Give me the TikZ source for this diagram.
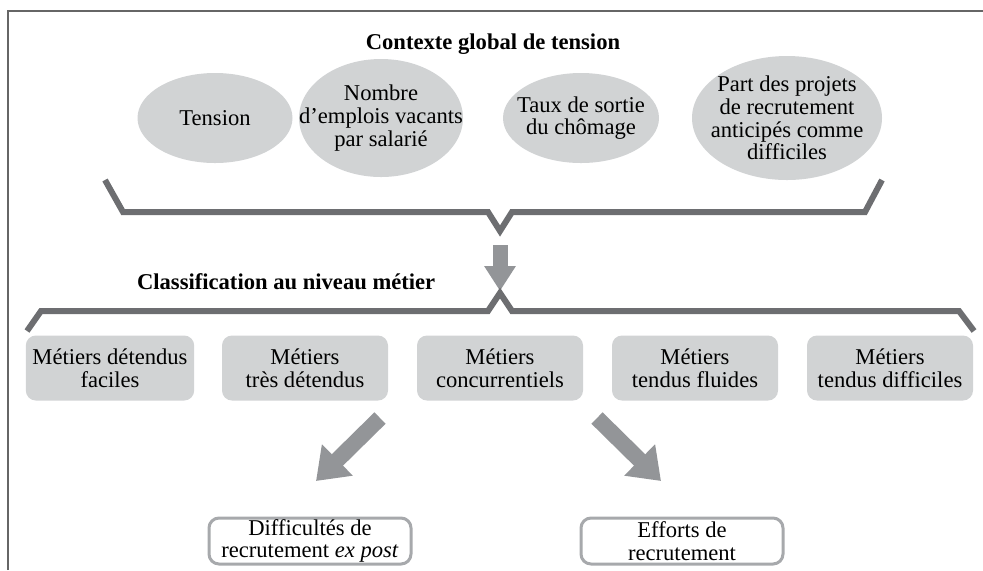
\documentclass[tikz,border=0pt]{standalone}
\usepackage{fontspec}
\setmainfont{Liberation Serif}
\usetikzlibrary{shapes.geometric,arrows.meta}
\definecolor{fondgris}{HTML}{D1D3D4}
\definecolor{accgris}{HTML}{6D6E71}
\definecolor{flechgris}{HTML}{939598}
\definecolor{bordgris}{HTML}{A7A9AC}
\definecolor{cadregris}{HTML}{666666}

\begin{document}
\begin{tikzpicture}[x=0.5pt,y=-0.5pt]
   \tikzstyle{every node}=[font=\fontsize{11.3}{11.4}\selectfont, align=center]
   \tikzstyle{bulle}=[ellipse, fill=fondgris, inner sep=0pt]
   \tikzstyle{metier}=[rectangle, rounded corners=5pt, fill=fondgris, minimum width=83pt, minimum height=32.5pt]
   \tikzstyle{effet}=[rectangle, rounded corners=5pt, draw=bordgris, line width=1.5pt, fill=white, minimum width=101pt, minimum height=23pt, inner ysep=0.5pt]
   \tikzstyle{accolade}=[draw=accgris, line width=3pt]
   \tikzstyle{fleche}=[draw=flechgris, line width=7.5pt, -{Triangle[width=15pt,length=12.5pt]}]
   \tikzstyle{grossefleche}=[draw=flechgris, line width=8pt, -{Triangle[width=21pt,length=15pt]}]

\useasboundingbox (0,0) rectangle (983,570);
\draw[cadregris, line width=0.8pt] (8,570) -- (8,11) -- (983,11);

\node[font=\fontsize{11.3}{11.4}\selectfont\bfseries] (titre) at (493,44) {Contexte global de tension};

\node[bulle, minimum width=77.5pt, minimum height=45pt] (tension) at (215,118) {};
\node[bulle, minimum width=82pt, minimum height=59pt] (nombre) at (381,118) {};
\node[bulle, minimum width=78pt, minimum height=45pt] (taux) at (581,118) {};
\node[bulle, minimum width=95pt, minimum height=62pt] (part) at (787,118) {};
\node (tensionT) at (tension) {Tension};
\node (nombreT) at (nombre) {Nombre\\d'emplois vacants\\par salarié};
\node (tauxT) at (taux) {Taux de sortie\\du chômage};
\node (partT) at (part) {Part des projets\\de recrutement\\anticipés comme\\difficiles};

\coordinate (h1) at (105,180);
\coordinate (h2) at (123,212);
\coordinate (h3) at (488,212);
\coordinate (hpointe) at (500,231);
\coordinate (h4) at (512,212);
\coordinate (h5) at (865,212);
\coordinate (h6) at (882,180);
\draw[accolade] (h1) -- (h2) -- (h3) -- (hpointe) -- (h4) -- (h5) -- (h6);

\coordinate (depart) at (500,245);
\coordinate (arrivee) at (500,291);
\draw[fleche] (depart) -- (arrivee);

\node[font=\fontsize{11.3}{11.4}\selectfont\bfseries, anchor=west] (classif) at (130,282) {Classification au niveau métier};

\coordinate (b1) at (27,331);
\coordinate (b2) at (41,311);
\coordinate (b3) at (488,311);
\coordinate (bpointe) at (500,293);
\coordinate (b4) at (512,311);
\coordinate (b5) at (959,311);
\coordinate (b6) at (974,331);
\draw[accolade] (b1) -- (b2) -- (b3) -- (bpointe) -- (b4) -- (b5) -- (b6);

\node[metier] (faciles) at (110,368) {Métiers détendus\\faciles};
\node[metier] (tresdet) at (305,368) {Métiers\\très détendus};
\node[metier] (concur) at (500,368) {Métiers\\concurrentiels};
\node[metier] (fluides) at (695,368) {Métiers\\tendus fluides};
\node[metier] (diffic) at (890,368) {Métiers\\tendus difficiles};

\node[effet] (expost) at (310,541) {Difficultés de\\recrutement \textit{ex post}};
\node[effet] (efforts) at (682,541) {Efforts de\\recrutement};

\coordinate (g1) at (380,418);
\coordinate (g2) at (316,481);
\coordinate (d1) at (597,418);
\coordinate (d2) at (661,481);
\draw[grossefleche] (g1) -- (g2);
\draw[grossefleche] (d1) -- (d2);

\end{tikzpicture}
\end{document}
